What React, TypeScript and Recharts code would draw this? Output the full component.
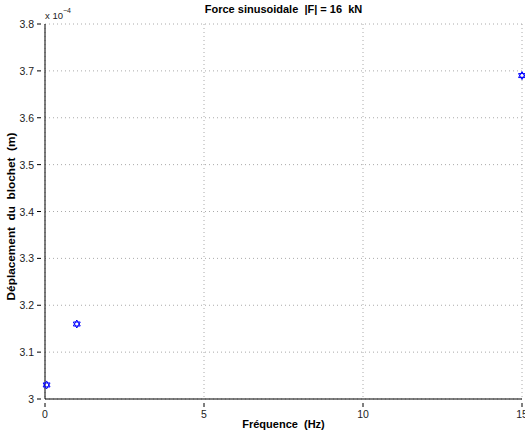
import React from 'react';
import { ScatterChart, Scatter, XAxis, YAxis, CartesianGrid, Label } from 'recharts';

// Fréquence (Hz) vs déplacement (x 1e-4 m)
const frequencies = [0.05, 1, 15];
const displacements = [3.03, 3.16, 3.69];
const xTicks = [0, 5, 10, 15];
const yTicks = [3, 3.1, 3.2, 3.3, 3.4, 3.5, 3.6, 3.7, 3.8];

const points = frequencies.map((f, i) => ({ x: f, y: displacements[i] }));

const FONT = '"Liberation Sans", Arial, Helvetica, sans-serif';

// Hexagram marker, as in MATLAB 'h'
const Hexagram = (props: any) => {
  const { cx, cy } = props;
  if (cx == null || cy == null) return null;
  const r = 4;
  const tri = (rot: number) =>
    [0, 1, 2]
      .map((k) => {
        const a = rot + (k * 2 * Math.PI) / 3;
        return `${cx + r * Math.sin(a)},${cy - r * Math.cos(a)}`;
      })
      .join(' ');
  return (
    <g>
      <polygon points={tri(0)} fill="none" stroke="#0000ff" strokeWidth={1} />
      <polygon points={tri(Math.PI)} fill="none" stroke="#0000ff" strokeWidth={1} />
    </g>
  );
};

const YTick = (props: any) => {
  const { x, y, payload } = props;
  const v = payload.value;
  return (
    <g>
      <line x1={x} y1={y} x2={x + 4} y2={y} stroke="#000" />
      <text x={x - 3} y={y + 4} textAnchor="end" fontSize={10.5} fill="#222" fontFamily={FONT}>
        {Number(v.toFixed(1)).toString()}
      </text>
    </g>
  );
};

const XTick = (props: any) => {
  const { x, y, payload } = props;
  return (
    <g>
      <line x1={x} y1={y} x2={x} y2={y - 4} stroke="#000" />
      <text x={x} y={y + 11} textAnchor="middle" fontSize={10.5} fill="#222" fontFamily={FONT}>
        {payload.value}
      </text>
    </g>
  );
};

const YTitle = (props: any) => {
  const vb = props.viewBox || {};
  const cy = (vb.y ?? 24) + (vb.height ?? 375) / 2 + 5;
  const cx = 15;
  return (
    <text
      x={cx}
      y={cy}
      transform={`rotate(-90, ${cx}, ${cy})`}
      textAnchor="middle"
      fontSize={11.8}
      fontWeight="bold"
      fill="#000"
      fontFamily={FONT}
    >
      {'Déplacement\u00a0\u00a0du\u00a0\u00a0blochet\u00a0\u00a0(m)'}
    </text>
  );
};

export default function App() {
  return (
    <div style={{ position: 'relative', width: 525, height: 434, background: '#fff' }}>
      <style>{`body{margin:0}`}</style>
      <ScatterChart width={525} height={434} margin={{ top: 24, right: 3, bottom: 0, left: 0 }}>
        <CartesianGrid stroke="#aaa" strokeDasharray="1 3" horizontalValues={yTicks} verticalValues={xTicks} />
        <XAxis
          type="number"
          dataKey="x"
          domain={[0, 15]}
          ticks={xTicks}
          height={35}
          axisLine={{ stroke: '#000' }}
          tickLine={false}
          tick={<XTick />}
          interval={0}
        >
          <Label
            value={'Fréquence\u00a0\u00a0(Hz)'}
            position="insideBottom"
            offset={6}
            style={{ fontSize: 11, fontWeight: 'bold', fill: '#000', fontFamily: FONT }}
          />
        </XAxis>
        <YAxis
          type="number"
          dataKey="y"
          domain={[3, 3.8]}
          ticks={yTicks}
          width={45}
          axisLine={{ stroke: '#000' }}
          tickLine={false}
          tick={<YTick />}
          interval={0}
        >
          <Label content={<YTitle />} />
        </YAxis>
        <Scatter data={points} shape={<Hexagram />} isAnimationActive={false} />
      </ScatterChart>
      <div
        style={{
          position: 'absolute',
          top: 3,
          left: 45,
          width: 477,
          textAlign: 'center',
          fontFamily: FONT,
          fontWeight: 'bold',
          fontSize: 11,
          color: '#000',
          whiteSpace: 'pre',
        }}
      >
        {'Force sinusoidale  |F| = 16  kN'}
      </div>
      <div
        style={{ position: 'absolute', top: 9, left: 45, fontFamily: FONT, fontSize: 9.5, color: '#222' }}
      >
        x 10<sup style={{ fontSize: 7, position: 'relative', top: -2 }}>−4</sup>
      </div>
    </div>
  );
}
